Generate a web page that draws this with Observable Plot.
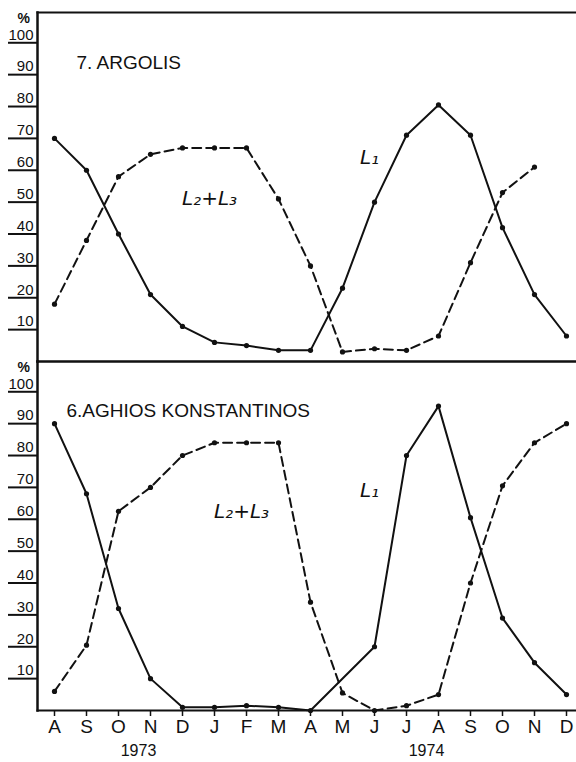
<!DOCTYPE html>
<html>
<head>
<meta charset="utf-8">
<script src="https://cdn.jsdelivr.net/npm/d3@7"></script>
<script src="https://cdn.jsdelivr.net/npm/@observablehq/plot@0.6"></script>
<style>
  html, body { margin: 0; padding: 0; background: #fff; }
  #chart svg { display: block; }
</style>
</head>
<body>
<div id="chart"></div>
<script>
// ---- data ----
const monthKeys = ["1973-08","1973-09","1973-10","1973-11","1973-12",
  "1974-01","1974-02","1974-03","1974-04","1974-05","1974-06","1974-07",
  "1974-08","1974-09","1974-10","1974-11","1974-12"];
const monthLabels = ["A","S","O","N","D","J","F","M","A","M","J","J","A","S","O","N","D"];
const panels = ["7. ARGOLIS", "6. AGHIOS KONSTANTINOS"];
const seriesNames = ["L1", "L2+L3"];
const seriesText = ["L\u2081", "L\u2082+L\u2083"];

// 7. Argolis
const argolisL1  = [70, 60, 40, 21, 11, 6, 5, 3.5, 3.5, 23, 50, 71, 80.5, 71, 42, 21, 8];
const argolisL23 = [18, 38, 58, 65, 67, 67, 67, 51, 30, 3, 4, 3.5, 8, 31, 53, 61, null];
// 6. Aghios Konstantinos
const aghiosL1   = [90, 68, 32, 10, 1, 1, 1.5, 1, 0, null, 20, 80, 95.5, 60.5, 29, 15, 5];
const aghiosL23  = [6, 20.5, 62.5, 70, 80, 84, 84, 84, 34, 5.5, 0, 1.5, 5, 40, 70.5, 84, 90];

const yTicks = [10, 20, 30, 40, 50, 60, 70, 80, 90, 100];
const years = ["1973", "1974"];
const yearAnchor = ["1973-10", "1974-07"];

// in-plot series labels (panel, series, month key, value)
const labelPanels = [panels[0], panels[0], panels[1], panels[1]];
const labelSeries = [0, 1, 0, 1];
const labelKeys   = ["1974-06", "1974-01", "1974-06", "1974-02"];
const labelValues = [64, 51, 69, 62.5];

// ---- tidy rows ----
const rows = [];
function addSeries(panel, series, values) {
  values.forEach((v, i) => {
    if (v != null) rows.push({panel, series, key: monthKeys[i], value: v});
  });
}
addSeries(panels[0], "L1", argolisL1);
addSeries(panels[0], "L2+L3", argolisL23);
addSeries(panels[1], "L1", aghiosL1);
addSeries(panels[1], "L2+L3", aghiosL23);

const labels = labelPanels.map((p, i) => ({
  panel: p, text: seriesText[labelSeries[i]], key: labelKeys[i], value: labelValues[i]
}));
const titles = panels.map(p => ({panel: p}));
const yearRows = years.map((y, i) => ({year: y, key: yearAnchor[i], panel: panels[1]}));
const monthLabel = new Map(monthKeys.map((k, i) => [k, monthLabels[i]]));

const FONT = "'Liberation Sans', Arial, Helvetica, sans-serif";

const chart = Plot.plot({
  width: 576,
  height: 762,
  marginTop: 12,
  marginBottom: 52,
  marginLeft: 37,
  marginRight: 0,
  style: {fontFamily: FONT, fontSize: "15px", background: "#fff", color: "#111"},
  x: {type: "point", domain: monthKeys, padding: 0, range: [47, 572]},
  y: {domain: [0, 109.5]},
  fy: {domain: panels, padding: 0, axis: null},
  marks: [
    Plot.frame({anchor: "left", strokeWidth: 2.5}),
    Plot.frame({anchor: "top", strokeWidth: 2}),
    Plot.frame({anchor: "bottom", strokeWidth: 2}),
    Plot.axisY({ticks: yTicks, tickSize: 29, tickFormat: () => "", strokeWidth: 2, label: null}),
    Plot.text(yTicks, {y: d => d, text: d => String(d), frameAnchor: "left", dx: -4, dy: -8,
      textAnchor: "end", fontSize: 15}),
    Plot.text(["%"], {frameAnchor: "top-left", dx: -20, dy: 1, fontSize: 14, fontWeight: "bold"}),
    Plot.axisX({ticks: monthKeys, tickSize: 6, tickPadding: 3, strokeWidth: 1.5,
      tickFormat: k => monthLabel.get(k), fontSize: 19, label: null}),
    Plot.text(yearRows, {x: "key", fy: "panel", text: "year", frameAnchor: "bottom",
      dx: 20, dy: 45, fontSize: 16}),
    // lines
    Plot.line(rows.filter(d => d.series === "L1"), {x: "key", y: "value", fy: "panel",
      stroke: "#111", strokeWidth: 2}),
    Plot.line(rows.filter(d => d.series === "L2+L3"), {x: "key", y: "value", fy: "panel",
      stroke: "#111", strokeWidth: 2, strokeDasharray: "9,5"}),
    Plot.dot(rows, {x: "key", y: "value", fy: "panel", r: 2.6, fill: "#111"}),
    // titles
    Plot.text(titles.filter(d => d.panel === panels[0]), {fy: "panel", text: "panel",
      frameAnchor: "top-left", dx: 39, dy: 43, textAnchor: "start", fontSize: 19, letterSpacing: 1}),
    Plot.text(titles.filter(d => d.panel === panels[1]), {fy: "panel", text: d => d.panel.replace(". ", "."),
      frameAnchor: "top-left", dx: 29, dy: 42, textAnchor: "start", fontSize: 19, letterSpacing: 0.9}),
    // series labels
    Plot.text(labels, {x: "key", y: "value", fy: "panel", text: "text", dx: -5,
      fontSize: 20, fontStyle: "italic", fontFamily: "'DejaVu Sans', sans-serif"})
  ]
});
document.getElementById("chart").appendChild(chart);
</script>
</body>
</html>
